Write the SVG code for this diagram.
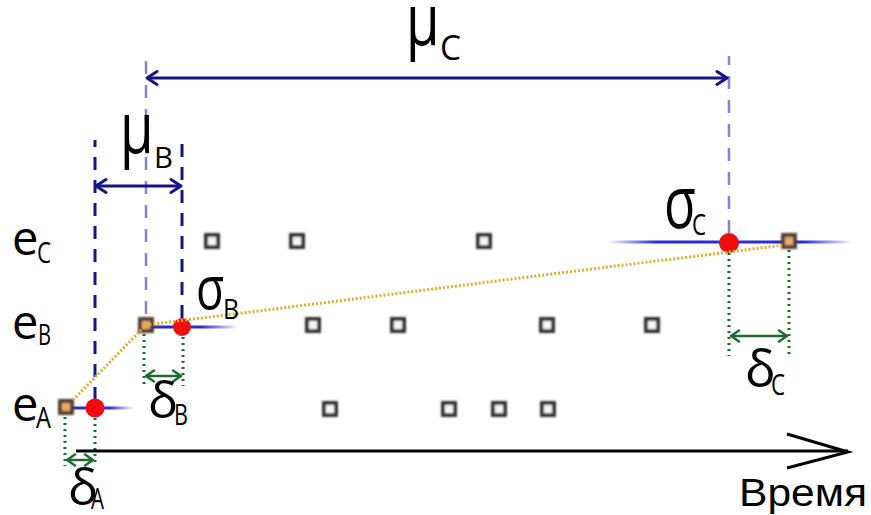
<svg xmlns="http://www.w3.org/2000/svg" width="871" height="515" viewBox="0 0 871 515">
<style>
.lbl{font-family:"Open Sans","DejaVu Sans",sans-serif;fill:#000}
.sq{fill:#f6f6f6;stroke:#333;stroke-width:4}
.sqo{fill:#e8ab6c;stroke:#4d3d30;stroke-width:4}
.dk{stroke:#151585;stroke-width:3;stroke-dasharray:13 10;fill:none}
.lt{stroke:#8585c8;stroke-width:2.5;stroke-dasharray:13 11;fill:none}
.gd{stroke:#1e6b30;stroke-width:3;stroke-dasharray:2 4;fill:none}
.ga{stroke:#1e6b30;stroke-width:2.5;fill:none}
.nv{stroke:#151585;stroke-width:3;fill:none}
.dot{fill:#f20d0d}
</style>
<defs>
<filter id="bl" x="-50%" y="-50%" width="200%" height="200%"><feGaussianBlur stdDeviation="0.9"/></filter>
<marker id="an" viewBox="-13 -9 15 18" refX="0" refY="0" markerWidth="15" markerHeight="18" markerUnits="userSpaceOnUse" orient="auto-start-reverse">
<path d="M-10,-6.5 L0,0 L-10,6.5" fill="none" stroke="#151585" stroke-width="3" stroke-linecap="round" stroke-linejoin="round"/>
</marker>
<marker id="ag" viewBox="-12 -8 14 16" refX="0" refY="0" markerWidth="14" markerHeight="16" markerUnits="userSpaceOnUse" orient="auto-start-reverse">
<path d="M-8,-5.5 L0,0 L-8,5.5" fill="none" stroke="#1e6b30" stroke-width="2.5" stroke-linecap="round" stroke-linejoin="round"/>
</marker>
<linearGradient id="gc" x1="608" y1="0" x2="852" y2="0" gradientUnits="userSpaceOnUse">
<stop offset="0" stop-color="#2b2bd0" stop-opacity="0"/>
<stop offset="0.2" stop-color="#2b2bd0" stop-opacity="1"/>
<stop offset="0.8" stop-color="#2b2bd0" stop-opacity="1"/>
<stop offset="1" stop-color="#2b2bd0" stop-opacity="0"/>
</linearGradient>
<linearGradient id="ga" x1="70" y1="0" x2="134" y2="0" gradientUnits="userSpaceOnUse">
<stop offset="0.6" stop-color="#2b2bd0" stop-opacity="1"/>
<stop offset="1" stop-color="#2b2bd0" stop-opacity="0"/>
</linearGradient>
<linearGradient id="gb" x1="146" y1="0" x2="238" y2="0" gradientUnits="userSpaceOnUse">
<stop offset="0.6" stop-color="#2b2bd0" stop-opacity="1"/>
<stop offset="1" stop-color="#2b2bd0" stop-opacity="0"/>
</linearGradient>
</defs>

<g id="connectors">
<line class="dk" x1="95" y1="400" x2="95" y2="140"/>
<line class="dk" x1="182" y1="318" x2="182" y2="140"/>
<line class="lt" x1="146" y1="314" x2="146" y2="56"/>
<line class="lt" x1="729" y1="233" x2="729" y2="56"/>
<line class="nv" x1="147" y1="78" x2="727" y2="78" marker-start="url(#an)" marker-end="url(#an)"/>
<line class="nv" x1="96" y1="186" x2="181" y2="186" marker-start="url(#an)" marker-end="url(#an)"/>
<line x1="70" y1="408" x2="134" y2="408" stroke="url(#ga)" stroke-width="3"/>
<line x1="146" y1="327" x2="238" y2="327" stroke="url(#gb)" stroke-width="3"/>
<line x1="608" y1="242" x2="852" y2="242" stroke="url(#gc)" stroke-width="3"/>
<line class="gd" x1="65" y1="417" x2="65" y2="466"/>
<line class="gd" x1="95" y1="418" x2="95" y2="466"/>
<line class="ga" x1="67" y1="460" x2="93" y2="460" marker-start="url(#ag)" marker-end="url(#ag)"/>
<line class="gd" x1="144" y1="334" x2="144" y2="386"/>
<line class="gd" x1="183" y1="337" x2="183" y2="386"/>
<line class="ga" x1="146" y1="376" x2="181" y2="376" marker-start="url(#ag)" marker-end="url(#ag)"/>
<line class="gd" x1="729" y1="253" x2="729" y2="356"/>
<line class="gd" x1="789" y1="250" x2="789" y2="356"/>
<line class="ga" x1="731" y1="336" x2="787" y2="336" marker-start="url(#ag)" marker-end="url(#ag)"/>
<line x1="76" y1="451" x2="848" y2="451" stroke="#000" stroke-width="3"/>
<path d="M787,434 L848,452 L787,468" fill="none" stroke="#000" stroke-width="3" stroke-linejoin="miter"/>
</g>

<g id="events" filter="url(#bl)">
<rect class="sq" x="206" y="235" width="12" height="12"/>
<rect class="sq" x="291" y="235" width="12" height="12"/>
<rect class="sq" x="478" y="235" width="12" height="12"/>
<rect class="sqo" x="783" y="235" width="12" height="12"/>
<rect class="sqo" x="140" y="319" width="12" height="12"/>
<rect class="sq" x="307" y="319" width="12" height="12"/>
<rect class="sq" x="392" y="319" width="12" height="12"/>
<rect class="sq" x="541" y="319" width="12" height="12"/>
<rect class="sq" x="646" y="319" width="12" height="12"/>
<rect class="sqo" x="60" y="401" width="12" height="12"/>
<rect class="sq" x="324" y="403" width="12" height="12"/>
<rect class="sq" x="443" y="403" width="12" height="12"/>
<rect class="sq" x="493" y="403" width="12" height="12"/>
<rect class="sq" x="542" y="403" width="12" height="12"/>
</g>

<g id="points">
<circle class="dot" cx="95" cy="408" r="9.5"/>
<circle class="dot" cx="182" cy="327" r="9"/>
<circle class="dot" cx="729" cy="243" r="10"/>
</g>

<g id="path">
<polyline points="73,400 146,325 784,245" fill="none" stroke="#d9b032" stroke-width="3" stroke-dasharray="2 2"/>
</g>

<g id="labels" class="lbl">
<text x="12" y="255" font-size="47">e</text>
<text x="37" y="263" font-size="30" textLength="14" lengthAdjust="spacingAndGlyphs">C</text>
<text x="12" y="339" font-size="47">e</text>
<text x="38" y="345" font-size="30" textLength="13" lengthAdjust="spacingAndGlyphs">B</text>
<text x="12" y="421" font-size="47">e</text>
<text x="36" y="428" font-size="30" textLength="15" lengthAdjust="spacingAndGlyphs">A</text>

<text transform="translate(406,45) scale(0.85,1.12)" font-size="64">μ</text>
<text x="440" y="60" font-size="34" textLength="21" lengthAdjust="spacingAndGlyphs">C</text>
<text transform="translate(120,153) scale(0.85,1.12)" font-size="64">μ</text>
<text x="154" y="168" font-size="30" textLength="19" lengthAdjust="spacingAndGlyphs">B</text>

<text transform="translate(664,228) scale(1,1.4)" font-size="52">σ</text>
<text x="692" y="235" font-size="30" textLength="14" lengthAdjust="spacingAndGlyphs">C</text>
<text transform="translate(196,309) scale(1,1.3)" font-size="46">σ</text>
<text x="223" y="319" font-size="28" textLength="16" lengthAdjust="spacingAndGlyphs">B</text>

<text x="745" y="387" font-size="51">δ</text>
<text x="771" y="395" font-size="30" textLength="14" lengthAdjust="spacingAndGlyphs">C</text>
<text x="148" y="418" font-size="50">δ</text>
<text x="174" y="425" font-size="30" textLength="14" lengthAdjust="spacingAndGlyphs">B</text>
<text x="68" y="505" font-size="50">δ</text>
<text x="91" y="509" font-size="30" textLength="13" lengthAdjust="spacingAndGlyphs">A</text>

<text x="739" y="506" font-family="Liberation Sans, Arial, sans-serif" font-size="38" textLength="128" lengthAdjust="spacingAndGlyphs">Время</text>
</g>
</svg>
